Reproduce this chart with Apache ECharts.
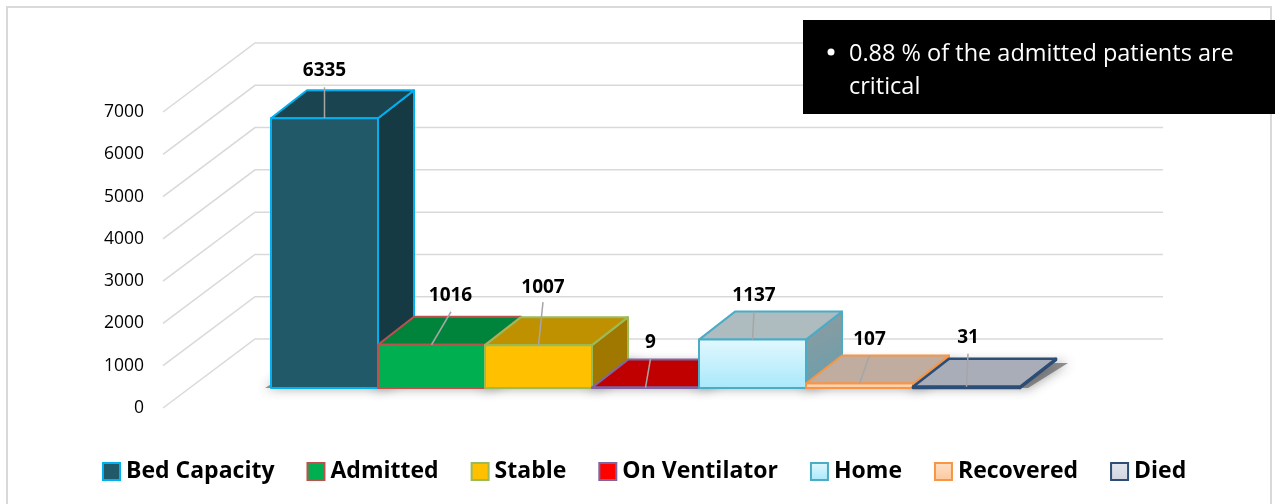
<!DOCTYPE html>
<html><head><meta charset="utf-8">
<script src="https://cdn.jsdelivr.net/npm/echarts@6/dist/echarts.min.js"></script>
<style>html,body{margin:0;padding:0;background:#fff}#c{width:1279px;height:504px}</style>
</head><body><div id="c"></div>
<script>
const categories = ['Bed Capacity','Admitted','Stable','On Ventilator','Home','Recovered','Died'];
const values = [6335,1016,1007,9,1137,107,31];
const yTicks = [0,1000,2000,3000,4000,5000,6000,7000];
const note = '0.88 % of the admitted patients are\ncritical';

const FONT = '"Open Sans"';
const grad = (a,b)=>({type:'linear',x:0,y:0,x2:0,y2:1,colorStops:[{offset:0,color:a},{offset:1,color:b}]});
const grad2 = (a,b)=>({type:'linear',x:0,y:0,x2:1,y2:1,colorStops:[{offset:0,color:a},{offset:1,color:b}]});
const looks = [
 {front:'#215968',top:'#1a4550',side:'#163a43',line:'#00b0f0',lw:2},
 {front:'#00b050',top:'#00843c',side:'#006b30',line:'#c0504d',lw:2},
 {front:'#ffc000',top:'#bf9000',side:'#a07800',line:'#9bbb59',lw:2},
 {front:'#ff0000',top:'#c00000',side:'#a00000',line:'#8064a2',lw:2},
 {front:grad('#e2f8fe','#a8e8fb'),top:'#aebcc0',side:grad2('#929a9e','#64a0ae'),line:'#4bacc6',lw:2},
 {front:grad('#fde0c8','#fcc89c'),top:'#c0ad9f',side:'#b09a88',line:'#f79646',lw:2},
 {front:grad('#e4e7ef','#cfd4e0'),top:'#a9adb8',side:'#8f93a0',line:'#2c4d75',lw:2.5}
];
// leader/label offset from the centre of each bar's front top edge
const leader = [[0,-31,0,-48],[19.5,-33,19,-49],[4.5,-43,4.5,-58],[5,-29,5,-45],[1.5,-28,1.5,-44],[10,-28,10,-44],[1.5,-33,1.5,-49]];
const DX = 36, DY = -28;        // bar depth
const WX = 92, WY = -69;        // floor depth
const BACK_RIGHT = 1163;

const barSeries = categories.map((name,i)=>({
  type:'custom', name, xAxisIndex:0, yAxisIndex:0, z:5+i, clip:false,
  itemStyle:{color:looks[i].front,borderColor:looks[i].line,borderWidth:2},
  data:[[i,values[i]]],
  renderItem(p,api){
    const k=looks[i], c=api.value(0), v=api.value(1);
    const base=api.coord([c,0]), top=api.coord([c,v]);
    const w=api.size([1,0])[0], x0=base[0]-w/2, x1=base[0]+w/2, y0=base[1], y1=top[1];
    const st=(f)=>({fill:f,stroke:k.line,lineWidth:k.lw,lineJoin:'round'});
    const L=leader[i], cx=base[0];
    return {type:'group',children:[
      {type:'polygon',shape:{points:[[x1,y0],[x1+DX,y0+DY],[x1+DX,y1+DY],[x1,y1]]},style:st(k.side)},
      {type:'polygon',shape:{points:[[x0,y1],[x1,y1],[x1+DX,y1+DY],[x0+DX,y1+DY]]},style:st(k.top)},
      {type:'rect',shape:{x:x0,y:y1,width:w,height:y0-y1},style:st(k.front)},
      {type:'line',shape:{x1:cx,y1:y1,x2:cx+L[0],y2:y1+L[1]},style:{stroke:'#a6a6a6',lineWidth:1.5}},
      {type:'text',x:cx+L[2],y:y1+L[3],style:{text:String(v),fill:'#000',font:'bold 19px '+FONT,align:'center',verticalAlign:'middle'}}
    ]};
  }
}));

const floorShadow = {
  type:'custom', xAxisIndex:0, yAxisIndex:0, z:3, clip:false, silent:true,
  data:categories.map((n,i)=>[i,values[i]]),
  renderItem(p,api){
    const base=api.coord([api.value(0),0]), w=api.size([1,0])[0];
    const x0=base[0]-w/2-6, x1=base[0]+w/2+8, y0=base[1];
    return {type:'polygon',shape:{points:[[x0,y0],[x1,y0],[x1+DX+4,y0+DY+3],[x0+DX+4,y0+DY+3]]},
      style:{fill:'rgba(90,90,90,0.65)',shadowBlur:12,shadowColor:'rgba(40,40,40,0.7)'}};
  }
};

const wallLines = {
  type:'custom', xAxisIndex:1, yAxisIndex:1, z:2, clip:false, silent:true,
  data:yTicks.map(t=>[0,t]),
  renderItem(p,api){
    const a=api.coord([0,api.value(1)]);
    return {type:'polyline',shape:{points:[a,[a[0]+WX,a[1]+WY],[BACK_RIGHT,a[1]+WY]]},
      style:{fill:null,stroke:'#d9d9d9',lineWidth:1.5}};
  }
};

const option = {
  animation:false, backgroundColor:'#fff',
  graphic:[
    {type:'rect',z:0,shape:{x:7,y:7,width:1264,height:510},style:{fill:'#fff',stroke:'#d9d9d9',lineWidth:2}},
    {type:'rect',z:20,shape:{x:803,y:20,width:472,height:94},style:{fill:'#000'}},
    {type:'circle',z:21,shape:{cx:831,cy:52,r:3.5},style:{fill:'#fff'}},
    {type:'text',z:21,x:849,y:38,style:{text:note,fill:'#fff',font:'23.5px '+FONT,lineHeight:33}}
  ],
  legend:{
    left:97, top:455, itemWidth:17, itemHeight:17, itemGap:32, icon:'rect',
    textStyle:{fontFamily:FONT,fontWeight:'bold',fontSize:23,color:'#000',padding:[0,0,0,1]},
    data:categories.map((name,i)=>({name,itemStyle:{color:looks[i].front,borderColor:looks[i].line,borderWidth:2}}))
  },
  grid:[
    {left:271,top:90,width:749,height:298},
    {left:163,top:112,width:10,height:296}
  ],
  xAxis:[
    {type:'category',gridIndex:0,data:categories,show:false},
    {type:'value',gridIndex:1,min:0,max:1,show:false}
  ],
  yAxis:[
    {type:'value',gridIndex:0,min:0,max:7000,interval:1000,show:false},
    {type:'value',gridIndex:1,min:0,max:7000,interval:1000,
     axisLine:{show:false},axisTick:{show:false},splitLine:{show:false},
     axisLabel:{fontFamily:FONT,fontSize:17.5,color:'#000',margin:19,formatter:v=>String(v)}}
  ],
  series:[wallLines,floorShadow,...barSeries]
};
const chart=echarts.init(document.getElementById('c'));
chart.setOption(option);
</script></body></html>
